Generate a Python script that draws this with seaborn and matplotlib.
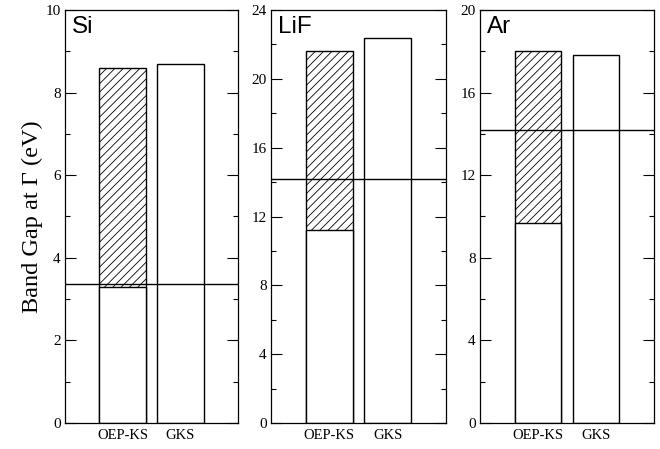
import pandas as pd
import numpy as np
import matplotlib.pyplot as plt
import seaborn as sns
from matplotlib.ticker import MultipleLocator

# data
systems = ["Si", "LiF", "Ar"]
methods = ["OEP-KS", "GKS"]
oep_top = [8.6, 21.6, 18.0]
oep_ks = [3.3, 11.2, 9.7]
gks = [8.7, 22.4, 17.8]
expt = [3.36, 14.2, 14.2]
ymax = [10, 24, 20]
major = [2, 4, 4]
minor = [1, 2, 2]

sns.set_style("ticks")
plt.rcParams["font.family"] = ["Liberation Serif", "DejaVu Serif"]
plt.rcParams["hatch.linewidth"] = 0.6
plt.rcParams["text.color"] = "black"
plt.rcParams["axes.labelcolor"] = "black"
plt.rcParams["xtick.color"] = "black"
plt.rcParams["ytick.color"] = "black"

fig = plt.figure(figsize=(6.6, 4.49), dpi=100)
lefts = [65, 271, 480]
widths = [173, 175, 174]

for i, s in enumerate(systems):
    ax = fig.add_axes([lefts[i] / 660, 1 - 423 / 449, widths[i] / 660, 413 / 449])
    tops = pd.DataFrame({"method": methods, "gap": [oep_top[i], gks[i]]})
    low = pd.DataFrame({"method": ["OEP-KS"], "gap": [oep_ks[i]]})
    sns.barplot(data=tops, x="method", y="gap", order=methods, color="white",
                edgecolor="black", linewidth=1.0, width=0.81, ax=ax)
    ax.patches[0].set_hatch("////")
    n = len(ax.patches)
    sns.barplot(data=low, x="method", y="gap", order=methods, color="white",
                edgecolor="black", linewidth=1.0, width=0.81, ax=ax)
    for p in ax.patches[n:]:
        p.set_facecolor("white")
    ax.axhline(expt[i], color="black", lw=1.0, zorder=5)

    ax.set_xlim(-1, 2)
    ax.set_ylim(0, ymax[i])
    ax.yaxis.set_major_locator(MultipleLocator(major[i]))
    ax.yaxis.set_minor_locator(MultipleLocator(minor[i]))
    ax.tick_params(axis="y", which="major", direction="in", length=8, width=0.8,
                   right=True, labelsize=11, pad=3)
    ax.tick_params(axis="y", which="minor", direction="in", length=3.7, width=0.8,
                   right=True)
    ax.tick_params(axis="x", length=0, labelsize=10.5, pad=4)
    for sp in ax.spines.values():
        sp.set_linewidth(0.9)
        sp.set_color("black")
    ax.set_xlabel("")
    ax.set_ylabel("")
    ax.text(0.04, 0.985, s, transform=ax.transAxes, ha="left", va="top",
            fontsize=17.5, color="black", family=["Liberation Sans", "DejaVu Sans"])
    if i == 0:
        ax.set_ylabel("Band Gap at Γ (eV)", fontsize=17.5, labelpad=2)

fig.savefig("out.png", dpi=100)
